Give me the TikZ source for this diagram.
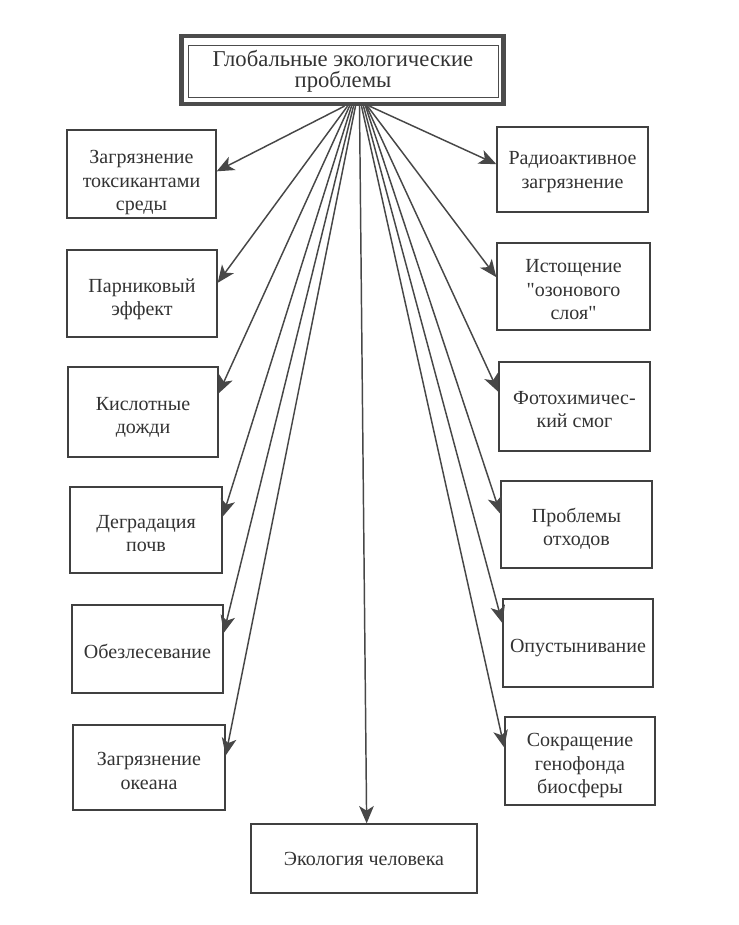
\documentclass[tikz,border=0pt]{standalone}
\usepackage{fontspec}
\setmainfont{Liberation Serif}
\usetikzlibrary{arrows.meta,calc}
\begin{document}
\begin{tikzpicture}[x=0.75pt,y=-0.75pt,
  box/.style={draw=black!75,line width=1pt,inner sep=0pt},
  txt/.style={align=center,text=black!80,inner sep=0pt,font=\fontsize{15}{17.5}\selectfont},
  arr/.style={draw=black!72,line width=1.1pt,-{Stealth[length=13pt,width=11pt,inset=3.5pt]}}]
\useasboundingbox (0,0) rectangle (739,925);
\fill[white] (0,0) rectangle (739,925);
% title
\node[draw=black!70,line width=3.2pt,minimum width=322*0.75pt,minimum height=68*0.75pt,inner sep=0pt] (top) at (342.5,70) {};
\node[draw=black!70,line width=0.6pt,minimum width=310*0.75pt,minimum height=52*0.75pt,inner sep=0pt,align=center,text=black!80,
  font=\fontsize{17}{16}\selectfont] (topin) at (343,71) {Глобальные экологические\\проблемы};
% left boxes
\node[box,minimum width=149*0.75pt,minimum height=88*0.75pt,label={[txt,yshift=-6.5pt]center:Загрязнение\\токсикантами\\среды}] (L1) at (141.5,174) {};
\node[box,minimum width=150*0.75pt,minimum height=87*0.75pt,label={[txt,yshift=-4.5pt]center:Парниковый\\эффект}] (L2) at (142,293.5) {};
\node[box,minimum width=150*0.75pt,minimum height=90*0.75pt,label={[txt,yshift=-4pt]center:Кислотные\\дожди}] (L3) at (143,412) {};
\node[box,minimum width=152*0.75pt,minimum height=86*0.75pt,label={[txt,yshift=-2.5pt]center:Деградация\\почв}] (L4) at (146,530) {};
\node[box,minimum width=151*0.75pt,minimum height=88*0.75pt,label={[txt,yshift=-1.5pt]center:Обезлесевание}] (L5) at (147.5,649) {};
\node[box,minimum width=152*0.75pt,minimum height=85*0.75pt,label={[txt,yshift=-2.5pt]center:Загрязнение\\океана}] (L6) at (149,767.5) {};
% right boxes
\node[box,minimum width=151*0.75pt,minimum height=85*0.75pt,label={[txt,yshift=-2pt]center:Радиоактивное\\загрязнение}] (R1) at (572.5,169.5) {};
\node[box,minimum width=153*0.75pt,minimum height=87*0.75pt,label={[txt,yshift=-2.5pt]center:Истощение\\\textquotedbl озонового\\слоя\textquotedbl}] (R2) at (573.5,286.5) {};
\node[box,minimum width=151*0.75pt,minimum height=89*0.75pt,label={[txt,yshift=-2.5pt]center:Фотохимичес-\\кий смог}] (R3) at (574.5,406.5) {};
\node[box,minimum width=151*0.75pt,minimum height=87*0.75pt,label={[txt,yshift=-3pt]center:Проблемы\\отходов}] (R4) at (576.5,524.5) {};
\node[box,minimum width=150*0.75pt,minimum height=88*0.75pt,label={[txt,yshift=-3.5pt]center:Опустынивание}] (R5) at (578,643) {};
\node[box,minimum width=150*0.75pt,minimum height=88*0.75pt,label={[txt,yshift=-3.5pt]center:Сокращение\\генофонда\\биосферы}] (R6) at (580,761) {};
% bottom
\node[box,minimum width=226*0.75pt,minimum height=69*0.75pt,label={[txt]center:Экология человека}] (B) at (364,858.5) {};
% arrows
\coordinate (o) at (top.south);
\draw[arr] ($(o)+(2,0)$) -- ([yshift=2pt]L1.east);
\draw[arr] ($(o)+(5,0)$) -- ([yshift=8pt]L2.east);
\draw[arr] ($(o)+(7,0)$) -- ([yshift=14pt]L3.east);
\draw[arr] ($(o)+(9,0)$) -- ([yshift=10pt]L4.east);
\draw[arr] ($(o)+(11,0)$) -- ([yshift=12pt]L5.east);
\draw[arr] ($(o)+(13,0)$) -- ([yshift=9pt]L6.east);
\draw[arr] ($(o)+(17,0)$) -- ([xshift=2pt]B.north);
\draw[arr] ($(o)+(19,0)$) -- ([yshift=10pt]R6.west);
\draw[arr] ($(o)+(21,0)$) -- ([yshift=15pt]R5.west);
\draw[arr] ($(o)+(23,0)$) -- ([yshift=8pt]R4.west);
\draw[arr] ($(o)+(24,0)$) -- ([yshift=11pt]R3.west);
\draw[arr] ($(o)+(25,0)$) -- ([yshift=7pt]R2.west);
\draw[arr] ($(o)+(27,0)$) -- ([yshift=4pt]R1.west);
\end{tikzpicture}
\end{document}
